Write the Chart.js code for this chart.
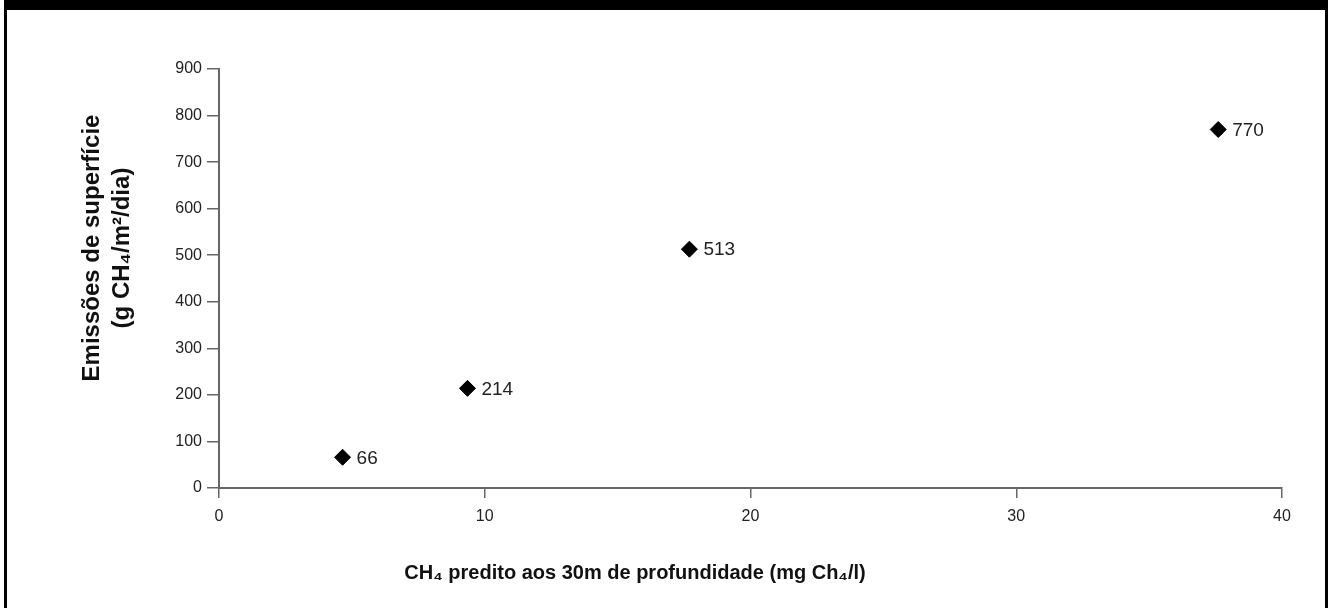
<!DOCTYPE html>
<html><head><meta charset="utf-8">
<script src="https://cdn.jsdelivr.net/npm/chart.js@4"></script>
<style>
html,body{margin:0;padding:0;background:#fff;}
#wrap{position:relative;width:1334px;height:608px;overflow:hidden;background:#fff;}
#frame{position:absolute;left:4px;top:0;width:1324px;height:608px;border-top:10px solid #000;border-left:3px solid #000;border-right:3px solid #000;box-sizing:border-box;pointer-events:none;}
canvas{position:absolute;left:0;top:0;}
</style></head>
<body><div id="wrap"><canvas id="c" width="1334" height="608"></canvas><div id="frame"></div></div>
<script>
// Data
const depthCH4 = [4.65, 9.35, 17.7, 37.6];          // CH4 predito aos 30m (mg Ch4/l)
const surfaceEmissions = [66, 214, 513, 770];        // Emissões de superfície (g CH4/m2/dia)
const pointLabels = ['66', '214', '513', '770'];
const xTickValues = [0, 10, 20, 30, 40];
const yTickValues = [0, 100, 200, 300, 400, 500, 600, 700, 800, 900];
const xTitle = 'CH₄ predito aos 30m de profundidade (mg Ch₄/l)';
const yTitle = ['Emissões de superfície', '(g CH₄/m²/dia)'];

const FONT = '"Liberation Sans", Arial, Helvetica, sans-serif';

const annot = {
  id: 'annot',
  afterDatasetsDraw(chart) {
    const ctx = chart.ctx;
    const meta = chart.getDatasetMeta(0);
    ctx.save();
    ctx.font = '19px ' + FONT;
    ctx.fillStyle = '#222';
    ctx.textAlign = 'left';
    ctx.textBaseline = 'middle';
    meta.data.forEach((pt, i) => {
      ctx.fillText(pointLabels[i], pt.x + 14, pt.y + 1);
    });
    ctx.fillStyle = '#111';
    ctx.textAlign = 'center';
    ctx.font = 'bold 20px ' + FONT;
    ctx.fillText(xTitle, 635, 573);
    ctx.translate(92, 248);
    ctx.rotate(-Math.PI / 2);
    ctx.font = 'bold 24px ' + FONT;
    ctx.fillText(yTitle[0], 0, 0);
    ctx.fillText(yTitle[1], 0, 30);
    ctx.restore();
  }
};

new Chart(document.getElementById('c'), {
  type: 'scatter',
  data: {
    datasets: [{
      label: 'Emissões',
      data: depthCH4.map((x, i) => ({ x: x, y: surfaceEmissions[i] })),
      pointStyle: 'rectRot',
      pointRadius: 8,
      pointBorderWidth: 1,
      backgroundColor: '#000',
      borderColor: '#000'
    }]
  },
  options: {
    responsive: false,
    animation: false,
    events: [],
    devicePixelRatio: 1,
    layout: { padding: { left: 0, right: 52, top: 69, bottom: 0 } },
    plugins: { legend: { display: false }, tooltip: { enabled: false }, title: { display: false } },
    scales: {
      x: {
        type: 'linear',
        min: 0, max: 40,
        afterBuildTicks(s) { s.ticks = xTickValues.map(v => ({ value: v })); },
        afterFit(s) { s.height = 120; },
        grid: { display: true, drawOnChartArea: false, drawTicks: true, tickLength: 10, color: '#666', lineWidth: 1.5 },
        border: { display: true, color: '#666', width: 2 },
        ticks: { color: '#222', font: { size: 16, family: FONT }, padding: 9, maxRotation: 0 },
        title: { display: false }
      },
      y: {
        type: 'linear',
        min: 0, max: 900,
        afterBuildTicks(s) { s.ticks = yTickValues.map(v => ({ value: v })); },
        afterFit(s) { s.width = 219; },
        grid: { display: true, drawOnChartArea: false, drawTicks: true, tickLength: 12, color: '#666', lineWidth: 1.5 },
        border: { display: true, color: '#666', width: 2 },
        ticks: { color: '#222', font: { size: 16, family: FONT }, padding: 5 },
        title: { display: false }
      }
    }
  },
  plugins: [annot]
});
</script>
</body></html>
